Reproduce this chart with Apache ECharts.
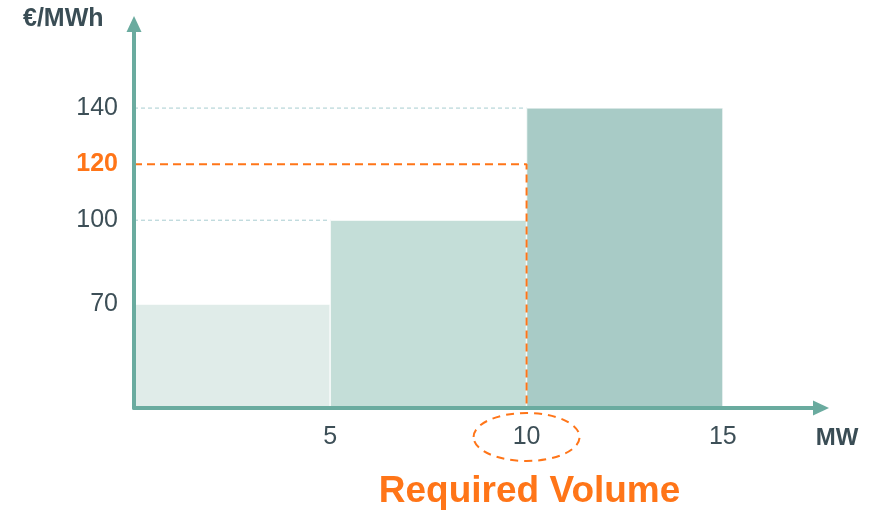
<!DOCTYPE html>
<html>
<head>
<meta charset="utf-8">
<script src="https://cdn.jsdelivr.net/npm/echarts@6/dist/echarts.min.js"></script>
<style>
  html, body { margin: 0; padding: 0; background: #fff; }
  #chart { width: 871px; height: 512px; }
</style>
</head>
<body>
<div id="chart"></div>
<script>
// merit order blocks
const blockStart = [0, 5, 10]
const blockEnd = [5, 10, 15]
const blockPrice = [70, 100, 140]
const blockColors = ['#e0ece9', '#c4ded8', '#a8cbc6']

const xTicks = [5, 10, 15]
const yTicks = [70, 100, 120, 140]

const requiredVolume = 10
const clearingPrice = 120

// axis range (schematic, not from zero)
const yMin = 33
const yMax = 170
const xMax = 17.5

const axisColor = '#6aab9f'
const textColor = '#3d4f57'
const orange = '#ff7518'
const font = 'Liberation Sans, Arial, sans-serif'

const chart = echarts.init(document.getElementById('chart'))

const blocks = blockStart.map((s, i) => [s, blockEnd[i], blockPrice[i]])

const option = {
  backgroundColor: '#fff',
  animation: false,
  grid: {
    left: 134,
    right: 50,
    top: 24,
    bottom: 104
  },
  xAxis: {
    type: 'value',
    min: 0,
    max: xMax,
    z: 5,
    splitLine: { show: false },
    axisTick: { show: false },
    axisLine: {
      symbol: ['none', 'triangle'],
      symbolSize: [15, 16],
      lineStyle: { color: axisColor, width: 4 }
    },
    axisLabel: {
      customValues: xTicks,
      margin: 17,
      fontSize: 25,
      fontFamily: font,
      color: textColor
    }
  },
  yAxis: {
    type: 'value',
    min: yMin,
    max: yMax,
    z: 5,
    splitLine: { show: false },
    axisTick: { show: false },
    axisLine: {
      symbol: ['none', 'triangle'],
      symbolSize: [15, 16],
      lineStyle: { color: axisColor, width: 4 }
    },
    axisLabel: {
      customValues: yTicks,
      margin: 16,
      fontSize: 25,
      fontFamily: font,
      color: textColor,
      formatter(v) {
        return v === clearingPrice ? '{hi|' + v + '}' : '' + v
      },
      rich: {
        hi: {
          color: orange,
          fontWeight: 'bold',
          fontSize: 25,
          fontFamily: font
        }
      }
    }
  },
  series: [
    {
      type: 'custom',
      z: 2,
      data: blocks,
      renderItem(params, api) {
        const p0 = api.coord([api.value(0), api.value(2)])
        const p1 = api.coord([api.value(1), yMin])
        return {
          type: 'rect',
          shape: { x: p0[0], y: p0[1], width: p1[0] - p0[0], height: p1[1] - p0[1] },
          style: { fill: blockColors[params.dataIndex], stroke: 'rgba(255,255,255,0.7)', lineWidth: 1.5 }
        }
      }
    },
    {
      type: 'line',
      z: 1,
      symbol: 'none',
      silent: true,
      data: [[0, blockPrice[2]], [blockStart[2], blockPrice[2]]],
      lineStyle: { color: '#a8cdd0', width: 1, type: [4, 3] }
    },
    {
      type: 'line',
      z: 1,
      symbol: 'none',
      silent: true,
      data: [[0, blockPrice[1]], [blockStart[1], blockPrice[1]]],
      lineStyle: { color: '#a8cdd0', width: 1, type: [4, 3] }
    },
    {
      type: 'line',
      z: 4,
      symbol: 'none',
      silent: true,
      data: [[0, clearingPrice], [requiredVolume, clearingPrice], [requiredVolume, yMin]],
      lineStyle: { color: orange, width: 2, type: [8, 5] }
    }
  ]
}

chart.setOption(option)

// annotations placed from the axis scale
const origin = chart.convertToPixel({ gridIndex: 0 }, [0, yMin])
const volPt = chart.convertToPixel({ gridIndex: 0 }, [requiredVolume, yMin])

chart.setOption({
  graphic: [
    {
      type: 'text',
      left: 23,
      top: 7,
      style: {
        text: '€/MWh',
        fontSize: 25,
        fontWeight: 'bold',
        fontFamily: font,
        fill: '#3a4d55'
      }
    },
    {
      type: 'text',
      x: 837,
      y: origin[1] + 30,
      style: {
        text: 'MW',
        fontSize: 24,
        fontWeight: 'bold',
        fontFamily: font,
        fill: '#3a4d55',
        align: 'center',
        verticalAlign: 'middle'
      }
    },
    {
      type: 'ellipse',
      shape: { cx: volPt[0], cy: origin[1] + 29, rx: 53, ry: 24 },
      style: { fill: null, stroke: orange, lineWidth: 2, lineDash: [8, 6] }
    },
    {
      type: 'text',
      x: volPt[0] + 3,
      y: origin[1] + 84,
      style: {
        text: 'Required Volume',
        fontSize: 37,
        fontWeight: 'bold',
        fontFamily: font,
        fill: orange,
        align: 'center',
        verticalAlign: 'middle'
      }
    }
  ]
})
</script>
</body>
</html>
